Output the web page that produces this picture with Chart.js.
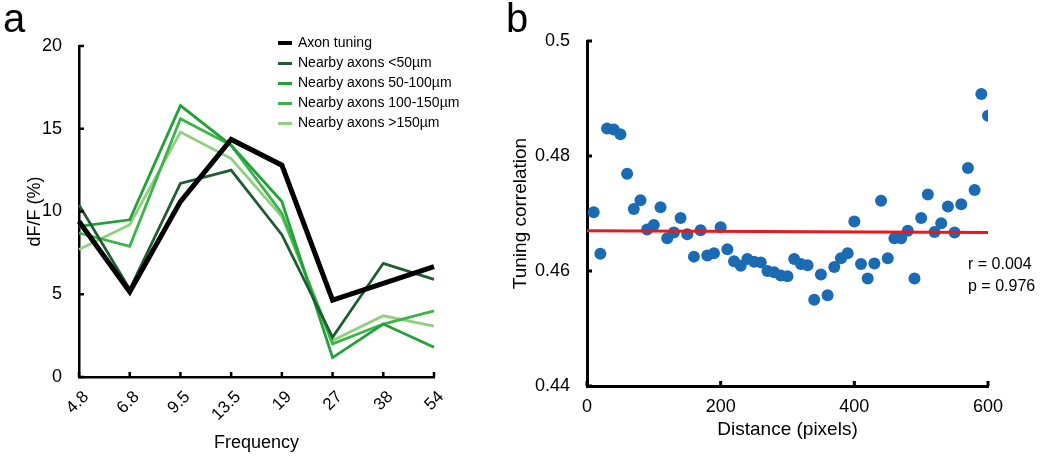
<!DOCTYPE html>
<html>
<head>
<meta charset="utf-8">
<script src="https://cdn.jsdelivr.net/npm/chart.js@4"></script>
<style>
  body { margin: 0; background: #fff; font-family: 'Liberation Sans', Arial, sans-serif; }
  #wrap { position: relative; width: 1050px; height: 457px; overflow: hidden; }
  canvas { position: absolute; top: 0; }
  .lbl { position: absolute; color: #000; white-space: nowrap; }
  .panel { font-size: 40px; line-height: 40px; }
  .leg { font-size: 14px; line-height: 20px; left: 278px; }
  .leg i { display: inline-block; width: 14px; vertical-align: middle; margin-right: 6px; }
  .stat { font-size: 16px; line-height: 21px; }
</style>
</head>
<body>
<div id="wrap">
  <canvas id="tuningCanvas" width="505" height="457" style="left:0"></canvas>
  <canvas id="corrCanvas" width="545" height="457" style="left:505px"></canvas>

  <div class="lbl panel" style="left:3px; top:-2px;">a</div>
  <div class="lbl panel" style="left:506px; top:-2px;">b</div>

  <div class="lbl leg" style="top:32px;"><i style="height:4px;background:#000"></i>Axon tuning</div>
  <div class="lbl leg" style="top:52px;"><i style="height:3px;background:#1f5c33"></i>Nearby axons &lt;50µm</div>
  <div class="lbl leg" style="top:72px;"><i style="height:3px;background:#22a236"></i>Nearby axons 50-100µm</div>
  <div class="lbl leg" style="top:92px;"><i style="height:3px;background:#3cb44a"></i>Nearby axons 100-150µm</div>
  <div class="lbl leg" style="top:112px;"><i style="height:3px;background:#8fcf7d"></i>Nearby axons &gt;150µm</div>

  <div class="lbl stat" style="left:968px; top:253px;">r = 0.004</div>
  <div class="lbl stat" style="left:968px; top:275px;">p = 0.976</div>
</div>

<script>
// panel a: tuning curves
const freqLabels = ['4.8', '6.8', '9.5', '13.5', '19', '27', '38', '54'];
const axonTuning = [9.4, 5.15, 10.6, 14.35, 12.8, 4.65, 5.65, 6.67];
const nearbyLt50 = [10.4, 5.3, 11.7, 12.5, 8.6, 2.4, 6.87, 5.9];
const nearby50to100 = [9.1, 9.5, 16.4, 14.0, 10.6, 1.17, 3.2, 1.8];
const nearby100to150 = [8.7, 7.9, 15.6, 14.0, 9.9, 2.0, 3.2, 4.0];
const nearbyGt150 = [7.7, 9.2, 14.8, 13.2, 9.7, 2.2, 3.7, 3.07];

// panel b: correlation vs distance
const distance = [10, 20, 30, 40, 50, 60, 70, 80, 90, 100,
    110, 120, 130, 140, 150, 160, 170, 180, 190, 200,
    210, 220, 230, 240, 250, 260, 270, 280, 290, 300,
    310, 320, 330, 340, 350, 360, 370, 380, 390, 400,
    410, 420, 430, 440, 450, 460, 470, 480, 490, 500,
    510, 520, 530, 540, 550, 560, 570, 580, 590, 600];
const correlation = [0.4702, 0.4630, 0.4848, 0.4846, 0.4838, 0.4769, 0.4708, 0.4723, 0.4672, 0.4680,
    0.4711, 0.4657, 0.4667, 0.4692, 0.4664, 0.4625, 0.4671, 0.4627, 0.4631, 0.4676,
    0.4638, 0.4617, 0.4609, 0.4621, 0.4616, 0.4615, 0.4600, 0.4598, 0.4592, 0.4591,
    0.4621, 0.4612, 0.4610, 0.4550, 0.4594, 0.4558, 0.4607, 0.4622, 0.4631, 0.4686,
    0.4612, 0.4587, 0.4613, 0.4722, 0.4622, 0.4657, 0.4657, 0.4670, 0.4587, 0.4692,
    0.4733, 0.4668, 0.4683, 0.4712, 0.4667, 0.4716, 0.4779, 0.4741, 0.4908, 0.4870];
const fitX = [0, 600];
const fitY = [0.4670, 0.4667];

const FONT = "'Liberation Sans', Arial, sans-serif";

// ticks drawn pointing into the plot, like the original figure
const inwardTicks = {
    id: 'inwardTicks',
    afterDraw(chart, args, opts) {
        const ctx = chart.ctx;
        const xs = chart.scales.x, ys = chart.scales.y;
        ctx.save();
        ctx.strokeStyle = '#000';
        ctx.lineWidth = opts.width || 2;
        ctx.beginPath();
        xs.ticks.forEach((t, i) => {
            const px = xs.getPixelForTick(i);
            ctx.moveTo(px, xs.top);
            ctx.lineTo(px, xs.top - 5);
        });
        ys.ticks.forEach((t, i) => {
            const py = ys.getPixelForTick(i);
            ctx.moveTo(ys.right, py);
            ctx.lineTo(ys.right + 5, py);
        });
        ctx.stroke();
        ctx.restore();
    }
};

function lineSet(label, data, color, width) {
    return {
        label: label,
        data: data,
        borderColor: color,
        backgroundColor: color,
        borderWidth: width,
        pointRadius: 0,
        tension: 0,
        fill: false,
        borderJoinStyle: 'miter'
    };
}

new Chart(document.getElementById('tuningCanvas'), {
    type: 'line',
    data: {
        labels: freqLabels,
        datasets: [
            lineSet('Axon tuning', axonTuning, '#000000', 5),
            lineSet('Nearby axons <50µm', nearbyLt50, '#1f5c33', 2.8),
            lineSet('Nearby axons 50-100µm', nearby50to100, '#22a236', 2.8),
            lineSet('Nearby axons 100-150µm', nearby100to150, '#3cb44a', 2.8),
            lineSet('Nearby axons >150µm', nearbyGt150, '#8fcf7d', 2.8)
        ]
    },
    options: {
        responsive: false,
        animation: false,
        layout: { padding: { top: 46, right: 71, left: 0, bottom: 0 } },
        plugins: {
            legend: { display: false },
            tooltip: { enabled: false },
            inwardTicks: { width: 2.5 }
        },
        scales: {
            x: {
                offset: false,
                grid: { display: false },
                border: { display: true, color: '#000', width: 2.5 },
                ticks: {
                    color: '#000',
                    font: { family: FONT, size: 17 },
                    minRotation: 45,
                    maxRotation: 45,
                    padding: 2,
                    labelOffset: 7,
                    autoSkip: false
                },
                title: {
                    display: true,
                    text: 'Frequency',
                    color: '#000',
                    font: { family: FONT, size: 18 },
                    padding: { top: 0, bottom: 3 }
                },
                afterFit(scale) { scale.height = 80; }
            },
            y: {
                min: 0,
                max: 20,
                grid: { display: false },
                border: { display: true, color: '#000', width: 2.5 },
                ticks: {
                    stepSize: 5,
                    color: '#000',
                    font: { family: FONT, size: 18 },
                    padding: 9
                },
                title: {
                    display: true,
                    text: 'dF/F (%)',
                    color: '#000',
                    font: { family: FONT, size: 18 },
                    padding: { top: 24, bottom: 0 }
                },
                afterFit(scale) { scale.width = 79; }
            }
        }
    },
    plugins: [inwardTicks]
});

new Chart(document.getElementById('corrCanvas'), {
    type: 'scatter',
    data: {
        datasets: [
            {
                label: 'Fit',
                data: fitX.map((x, i) => ({ x: x, y: fitY[i] })),
                showLine: true,
                borderColor: '#e8191e',
                borderWidth: 3,
                pointRadius: 0
            },
            {
                label: 'Axons',
                data: distance.map((d, i) => ({ x: d, y: correlation[i] })),
                backgroundColor: '#1a6bb3',
                borderColor: '#1a6bb3',
                borderWidth: 0,
                pointRadius: 6
            }
        ]
    },
    options: {
        responsive: false,
        animation: false,
        layout: { padding: { top: 41, right: 62, left: 0, bottom: 0 } },
        plugins: {
            legend: { display: false },
            tooltip: { enabled: false },
            inwardTicks: { width: 3 }
        },
        scales: {
            x: {
                type: 'linear',
                min: 0,
                max: 600,
                grid: { display: false },
                border: { display: true, color: '#000', width: 3 },
                ticks: {
                    stepSize: 200,
                    color: '#000',
                    font: { family: FONT, size: 18 },
                    padding: 2
                },
                title: {
                    display: true,
                    text: 'Distance (pixels)',
                    color: '#000',
                    font: { family: FONT, size: 19 },
                    padding: { top: 0, bottom: 16 }
                },
                afterFit(scale) { scale.height = 71; }
            },
            y: {
                min: 0.44,
                max: 0.5,
                grid: { display: false },
                border: { display: true, color: '#000', width: 3 },
                ticks: {
                    stepSize: 0.02,
                    color: '#000',
                    font: { family: FONT, size: 18 },
                    padding: 9,
                    callback: (v) => String(Math.round(v * 100) / 100)
                },
                title: {
                    display: true,
                    text: 'Tuning correlation',
                    color: '#000',
                    font: { family: FONT, size: 19 },
                    padding: { top: 4, bottom: 0 }
                },
                afterFit(scale) { scale.width = 82; }
            }
        }
    },
    plugins: [inwardTicks]
});
</script>
</body>
</html>
